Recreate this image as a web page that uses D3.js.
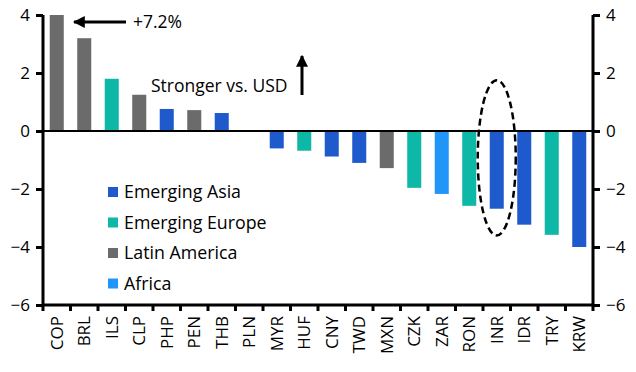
<!DOCTYPE html>
<html>
<head>
<meta charset="utf-8">
<script src="https://cdn.jsdelivr.net/npm/d3@7"></script>
<style>
  body { margin: 0; background: #fff; }
  svg text { font-family: "Open Sans", "Noto Sans", sans-serif; fill: #000; }
</style>
</head>
<body>
<svg width="636" height="372"></svg>
<script>
// currencies, change vs USD (%)
var currencies = ["COP","BRL","ILS","CLP","PHP","PEN","THB","PLN","MYR","HUF","CNY","TWD","MXN","CZK","ZAR","RON","INR","IDR","TRY","KRW"];
var changes = [7.2, 3.2, 1.8, 1.25, 0.76, 0.72, 0.62, 0, -0.6, -0.68, -0.88, -1.1, -1.28, -1.96, -2.17, -2.58, -2.68, -3.23, -3.58, -4.0];
var regions = ["LatAm","LatAm","Europe","LatAm","Asia","LatAm","Asia","Europe","Asia","Europe","Asia","Asia","LatAm","Europe","Africa","Europe","Asia","Asia","Europe","Asia"];
var legendKeys = ["Asia","Europe","LatAm","Africa"];
var legendLabels = ["Emerging Asia","Emerging Europe","Latin America","Africa"];
var yTicks = [-6,-4,-2,0,2,4];

var colors = {Asia: "#1f5acd", Europe: "#0db8a7", LatAm: "#6b6b6b", Africa: "#2196f8"};

var svg = d3.select("svg");
var pLeft = 43, pRight = 593, pTop = 15, pBottom = 305;

var x = d3.scaleBand().domain(currencies).range([pLeft, pRight]).paddingInner(0.49).paddingOuter(0.245);
var xTick = d3.scaleBand().domain(currencies).range([pLeft, pRight]);
var y = d3.scaleLinear().domain([-6, 4]).range([pBottom, pTop]);

var defs = svg.append("defs");
defs.append("clipPath").attr("id", "plot")
  .append("rect").attr("x", pLeft).attr("y", pTop).attr("width", pRight - pLeft).attr("height", pBottom - pTop);

var data = currencies.map((c, i) => ({name: c, v: changes[i], r: regions[i]}));

svg.append("g").attr("clip-path", "url(#plot)")
  .selectAll("rect").data(data).enter().append("rect")
  .attr("x", d => x(d.name))
  .attr("width", x.bandwidth())
  .attr("y", d => y(Math.max(0, d.v)))
  .attr("height", d => Math.abs(y(d.v) - y(0)))
  .style("fill", d => colors[d.r]);

// zero line
svg.append("line").attr("x1", pLeft).attr("x2", pRight).attr("y1", y(0)).attr("y2", y(0))
  .attr("stroke", "#000").attr("stroke-width", 2);

// axes
var yl = svg.append("g").attr("transform", `translate(${pLeft},0)`)
  .call(d3.axisLeft(y).tickValues(yTicks).tickSize(7).tickPadding(6));
var yr = svg.append("g").attr("transform", `translate(${pRight},0)`)
  .call(d3.axisRight(y).tickValues(yTicks).tickSize(7).tickPadding(6));
[yl, yr].forEach(g => {
  g.select(".domain").attr("stroke-width", 3).attr("d", `M0,${pTop}V${pBottom}`);
  g.selectAll(".tick line").attr("stroke-width", 3);
  g.selectAll("text").style("font-size", "17px").attr("font-family", null);
});

var xa = svg.append("g").attr("transform", `translate(0,${pBottom})`)
  .call(d3.axisBottom(xTick).tickSize(0).tickPadding(7));
xa.select(".domain").attr("stroke-width", 3).attr("d", `M${pLeft},0H${pRight}`);
xa.selectAll("text")
  .style("font-size", "17px").attr("font-family", null)
  .attr("transform", "rotate(-90)")
  .attr("text-anchor", "end").attr("dy", "0.35em")
  .attr("x", -11).attr("y", 0);
// ticks between categories
xa.selectAll(".btick").data(d3.range(currencies.length + 1)).enter().append("line")
  .attr("class", "btick")
  .attr("x1", i => pLeft + xTick.step() * i)
  .attr("x2", i => pLeft + xTick.step() * i)
  .attr("y1", 0).attr("y2", 6)
  .attr("stroke", "#000").attr("stroke-width", 3);

// legend
var lg = svg.append("g").selectAll("g").data(legendKeys).enter().append("g")
  .attr("transform", (d, i) => `translate(108,${192 + i * 30.5})`);
lg.append("rect").attr("x", 0).attr("y", -5).attr("width", 10).attr("height", 10)
  .style("fill", d => colors[d]);
lg.append("text").attr("x", 16).attr("dy", "0.35em")
  .style("font-size", "17.8px").text((d, i) => legendLabels[i]);

// annotations
defs.append("marker").attr("id", "ah").attr("viewBox", "0 0 10 10")
  .attr("refX", 9).attr("refY", 5).attr("markerWidth", 4).attr("markerHeight", 4)
  .attr("orient", "auto-start-reverse")
  .append("path").attr("d", "M0,0L10,5L0,10z").attr("fill", "#000");

svg.append("line").attr("x1", 126).attr("x2", 74).attr("y1", 22).attr("y2", 22)
  .attr("stroke", "#000").attr("stroke-width", 3).attr("marker-end", "url(#ah)");
svg.append("text").attr("x", 133).attr("y", 22).attr("dy", "0.35em")
  .style("font-size", "17.5px").text("+7.2%");

svg.append("text").attr("x", 151).attr("y", 92)
  .style("font-size", "17.5px").text("Stronger vs. USD");
svg.append("line").attr("x1", 302).attr("x2", 302).attr("y1", 95).attr("y2", 56)
  .attr("stroke", "#000").attr("stroke-width", 3).attr("marker-end", "url(#ah)");

// dashed ellipse around INR
svg.append("ellipse")
  .attr("cx", x("INR") + x.bandwidth() / 2)
  .attr("cy", (y(1.75) + y(-3.6)) / 2)
  .attr("rx", 19).attr("ry", (y(-3.6) - y(1.75)) / 2)
  .attr("fill", "none").attr("stroke", "#000").attr("stroke-width", 2.5)
  .attr("stroke-dasharray", "7,4");
</script>
</body>
</html>
